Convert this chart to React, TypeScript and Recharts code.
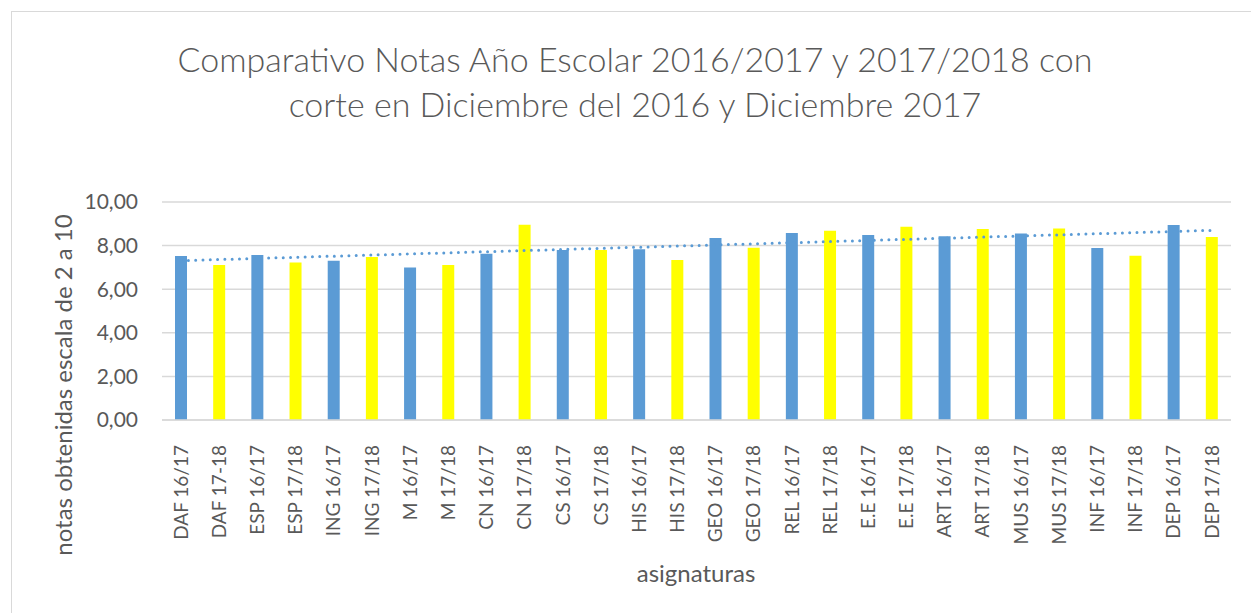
import {
  ComposedChart,
  Bar,
  Line,
  Cell,
  XAxis,
  YAxis,
  CartesianGrid,
} from "recharts";

const subjects = [
  "DAF 16/17",
  "DAF 17-18",
  "ESP 16/17",
  "ESP 17/18",
  "ING 16/17",
  "ING 17/18",
  "M 16/17",
  "M 17/18",
  "CN 16/17",
  "CN 17/18",
  "CS 16/17",
  "CS 17/18",
  "HIS 16/17",
  "HIS 17/18",
  "GEO 16/17",
  "GEO 17/18",
  "REL 16/17",
  "REL 17/18",
  "E.E 16/17",
  "E.E 17/18",
  "ART 16/17",
  "ART 17/18",
  "MUS 16/17",
  "MUS 17/18",
  "INF 16/17",
  "INF 17/18",
  "DEP 16/17",
  "DEP 17/18",
];

const notas = [
  7.52, 7.11, 7.57, 7.22, 7.31, 7.48, 6.99, 7.11, 7.63, 8.96, 7.8, 7.8, 7.83,
  7.34, 8.35, 7.9, 8.58, 8.68, 8.49, 8.87, 8.43, 8.76, 8.55, 8.78, 7.89, 7.54,
  8.94, 8.39,
];

// linear trendline, read at its two ends
const trendStart = 7.31;
const trendEnd = 8.7;

const yTicks = [0, 2, 4, 6, 8, 10];

const BLUE = "#5B9BD5";
const YELLOW = "#FFFF00";
const TEXT = "#595959";
const GRID = "#D9D9D9";
const FONT = "Lato, 'Open Sans', sans-serif";

const chartData = subjects.map((name, i) => ({
  name,
  nota: notas[i],
  trend: i === 0 ? trendStart : i === subjects.length - 1 ? trendEnd : null,
}));

const XTick = (props: any) => {
  const { x, y, payload } = props;
  return (
    <g transform={`translate(${x},${y})`}>
      <text
        x={-17}
        y={0}
        dy="0.35em"
        transform="rotate(-90)"
        textAnchor="end"
        fill={TEXT}
        fontSize={19}
        fontFamily={FONT}
      >
        {payload.value}
      </text>
    </g>
  );
};

const App = () => {
  return (
    <div
      style={{
        position: "fixed",
        left: 0,
        top: 0,
        width: 1251,
        height: 613,
        overflow: "hidden",
        background: "#fff",
        fontFamily: FONT,
        color: TEXT,
      }}
    >
      <div
        style={{
          position: "absolute",
          left: 11,
          top: 11,
          width: 1300,
          height: 700,
          border: `1.5px solid ${GRID}`,
        }}
      />
      <div
        style={{
          position: "absolute",
          left: 0,
          width: 1270,
          top: 36,
          textAlign: "center",
          fontSize: 34,
          fontWeight: 300,
          lineHeight: "45px",
        }}
      >
        Comparativo Notas Año Escolar 2016/2017 y 2017/2018 con
        <br />
        corte en Diciembre del 2016 y Diciembre 2017
      </div>
      <div
        style={{
          position: "absolute",
          left: 62,
          top: 385,
          transform: "translate(-50%, -50%) rotate(-90deg)",
          whiteSpace: "nowrap",
          fontSize: 24,
        }}
      >
        notas obtenidas escala de 2 a 10
      </div>
      <div
        style={{
          position: "absolute",
          left: 696,
          top: 572,
          transform: "translate(-50%, -50%)",
          whiteSpace: "nowrap",
          fontSize: 24,
        }}
      >
        asignaturas
      </div>
      <div style={{ position: "absolute", left: 0, top: 0 }}>
        <ComposedChart
          width={1251}
          height={613}
          data={chartData}
          margin={{ top: 202, right: 20, bottom: 0, left: 0 }}
        >
          <CartesianGrid
            vertical={false}
            stroke={GRID}
            strokeWidth={1.5}
          />
          <XAxis
            dataKey="name"
            height={193}
            interval={0}
            tickLine={false}
            axisLine={{ stroke: GRID, strokeWidth: 1.5 }}
            tick={<XTick />}
          />
          <YAxis
            width={162}
            domain={[0, 10]}
            ticks={yTicks}
            axisLine={false}
            tickLine={false}
            tickMargin={18}
            tickFormatter={(v: number) => v.toFixed(2).replace(".", ",")}
            tick={{ fill: TEXT, fontSize: 21, fontFamily: FONT }}
          />
          <Line
            dataKey="trend"
            connectNulls
            stroke={BLUE}
            strokeWidth={3}
            strokeDasharray="0 7.3"
            strokeLinecap="round"
            dot={false}
            activeDot={false}
            isAnimationActive={false}
          />
          <Bar dataKey="nota" barSize={12} isAnimationActive={false}>
            {chartData.map((entry) => (
              <Cell
                key={entry.name}
                fill={entry.name.includes("16/17") ? BLUE : YELLOW}
              />
            ))}
          </Bar>
        </ComposedChart>
      </div>
    </div>
  );
};

export default App;
